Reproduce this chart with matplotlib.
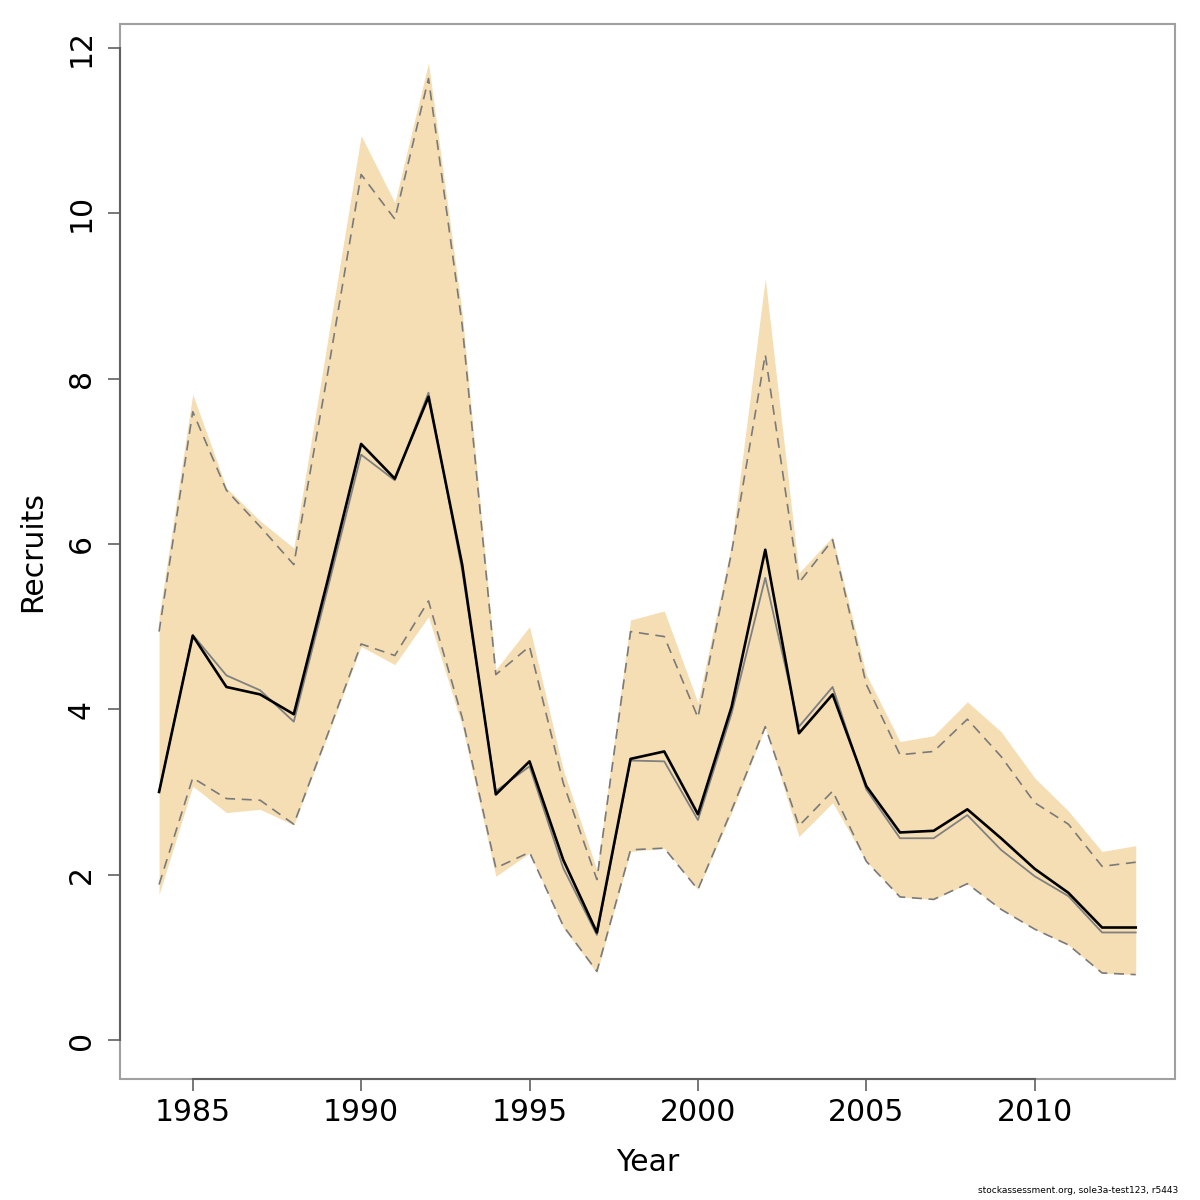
import matplotlib
matplotlib.use("Agg")
import matplotlib.pyplot as plt
from matplotlib.patches import Rectangle

# recruitment estimates
years = list(range(1984, 2014))

rec_est = [3.00, 4.89, 4.27, 4.18, 3.94, 5.55, 7.21, 6.79, 7.78, 5.75,
           2.97, 3.37, 2.18, 1.30, 3.40, 3.49, 2.73, 4.03, 5.93, 3.71,
           4.18, 3.07, 2.51, 2.53, 2.79, 2.44, 2.07, 1.78, 1.36, 1.36]

rec_median = [3.00, 4.90, 4.41, 4.23, 3.85, 5.45, 7.08, 6.77, 7.83, 5.68,
              3.01, 3.31, 2.08, 1.27, 3.38, 3.37, 2.66, 3.95, 5.59, 3.79,
              4.27, 3.03, 2.44, 2.44, 2.72, 2.30, 1.98, 1.74, 1.30, 1.30]

ci_hi = [4.94, 7.60, 6.65, 6.21, 5.75, 8.05, 10.47, 9.93, 11.63, 8.65,
         4.42, 4.76, 3.11, 1.94, 4.94, 4.88, 3.90, 5.90, 8.29, 5.53,
         6.05, 4.30, 3.45, 3.49, 3.88, 3.43, 2.87, 2.61, 2.10, 2.15]

ci_lo = [1.88, 3.17, 2.92, 2.90, 2.61, 3.69, 4.79, 4.65, 5.31, 3.90,
         2.08, 2.27, 1.38, 0.83, 2.30, 2.32, 1.82, 2.78, 3.79, 2.59,
         3.01, 2.16, 1.73, 1.70, 1.89, 1.58, 1.34, 1.15, 0.81, 0.79]

band_hi = [5.12, 7.81, 6.68, 6.28, 5.95, 8.45, 10.94, 10.13, 11.82, 8.80,
           4.48, 5.00, 3.27, 2.06, 5.08, 5.19, 4.08, 6.00, 9.21, 5.65,
           6.09, 4.42, 3.61, 3.68, 4.09, 3.73, 3.17, 2.77, 2.28, 2.35]

band_lo = [1.76, 3.07, 2.75, 2.79, 2.60, 3.67, 4.76, 4.54, 5.12, 3.80,
           1.98, 2.26, 1.36, 0.81, 2.28, 2.32, 1.82, 2.75, 3.78, 2.46,
           2.87, 2.16, 1.73, 1.70, 1.89, 1.58, 1.34, 1.15, 0.81, 0.79]

xticks = [1985, 1990, 1995, 2000, 2005, 2010]
yticks = [0, 2, 4, 6, 8, 10, 12]

fig = plt.figure(figsize=(12, 12), dpi=100)
ax = fig.add_axes([0.1, 0.1008, 0.879, 0.8792])

ax.fill_between(years, band_lo, band_hi, color="#F5DEB3", lw=0)
ax.plot(years, ci_hi, color="#7a7a7a", lw=1.2, ls=(0, (6, 4)))
ax.plot(years, ci_lo, color="#7a7a7a", lw=1.2, ls=(0, (6, 4)))
ax.plot(years, rec_median, color="#808080", lw=1.3)
ax.plot(years, rec_est, color="black", lw=1.9)

ax.set_xlim(1982.84, 2014.16)
ax.set_ylim(-0.473, 12.29)

# R style box: light frame, darker axis lines between outer ticks
ax.add_patch(Rectangle((0, 0), 1, 1, transform=ax.transAxes, fill=False,
                       ec="#a0a0a0", lw=1.5, clip_on=False, zorder=5))
for s in ["top", "right"]:
    ax.spines[s].set_visible(False)
ax.spines["left"].set_bounds(0, 12)
ax.spines["bottom"].set_bounds(1985, 2010)
for s in ["left", "bottom"]:
    ax.spines[s].set_color("#606060")
    ax.spines[s].set_linewidth(1.5)
    ax.spines[s].set_zorder(6)

ax.set_xticks(xticks)
ax.set_yticks(yticks)
ax.tick_params(axis="both", direction="out", length=8.6, width=1.2,
               color="#606060", labelsize=21.5)
ax.tick_params(axis="x", pad=5)
ax.tick_params(axis="y", pad=9)
for lab in ax.get_yticklabels():
    lab.set_rotation(90)
    lab.set_va("center")

ax.set_xlabel("Year", fontsize=21.5, labelpad=15)
ax.set_ylabel("Recruits", fontsize=21.5, labelpad=14)

fig.text(0.982, 0.0045, "stockassessment.org, sole3a-test123, r5443",
         ha="right", va="bottom", fontsize=6.5)

fig.savefig("out.png", dpi=100)
